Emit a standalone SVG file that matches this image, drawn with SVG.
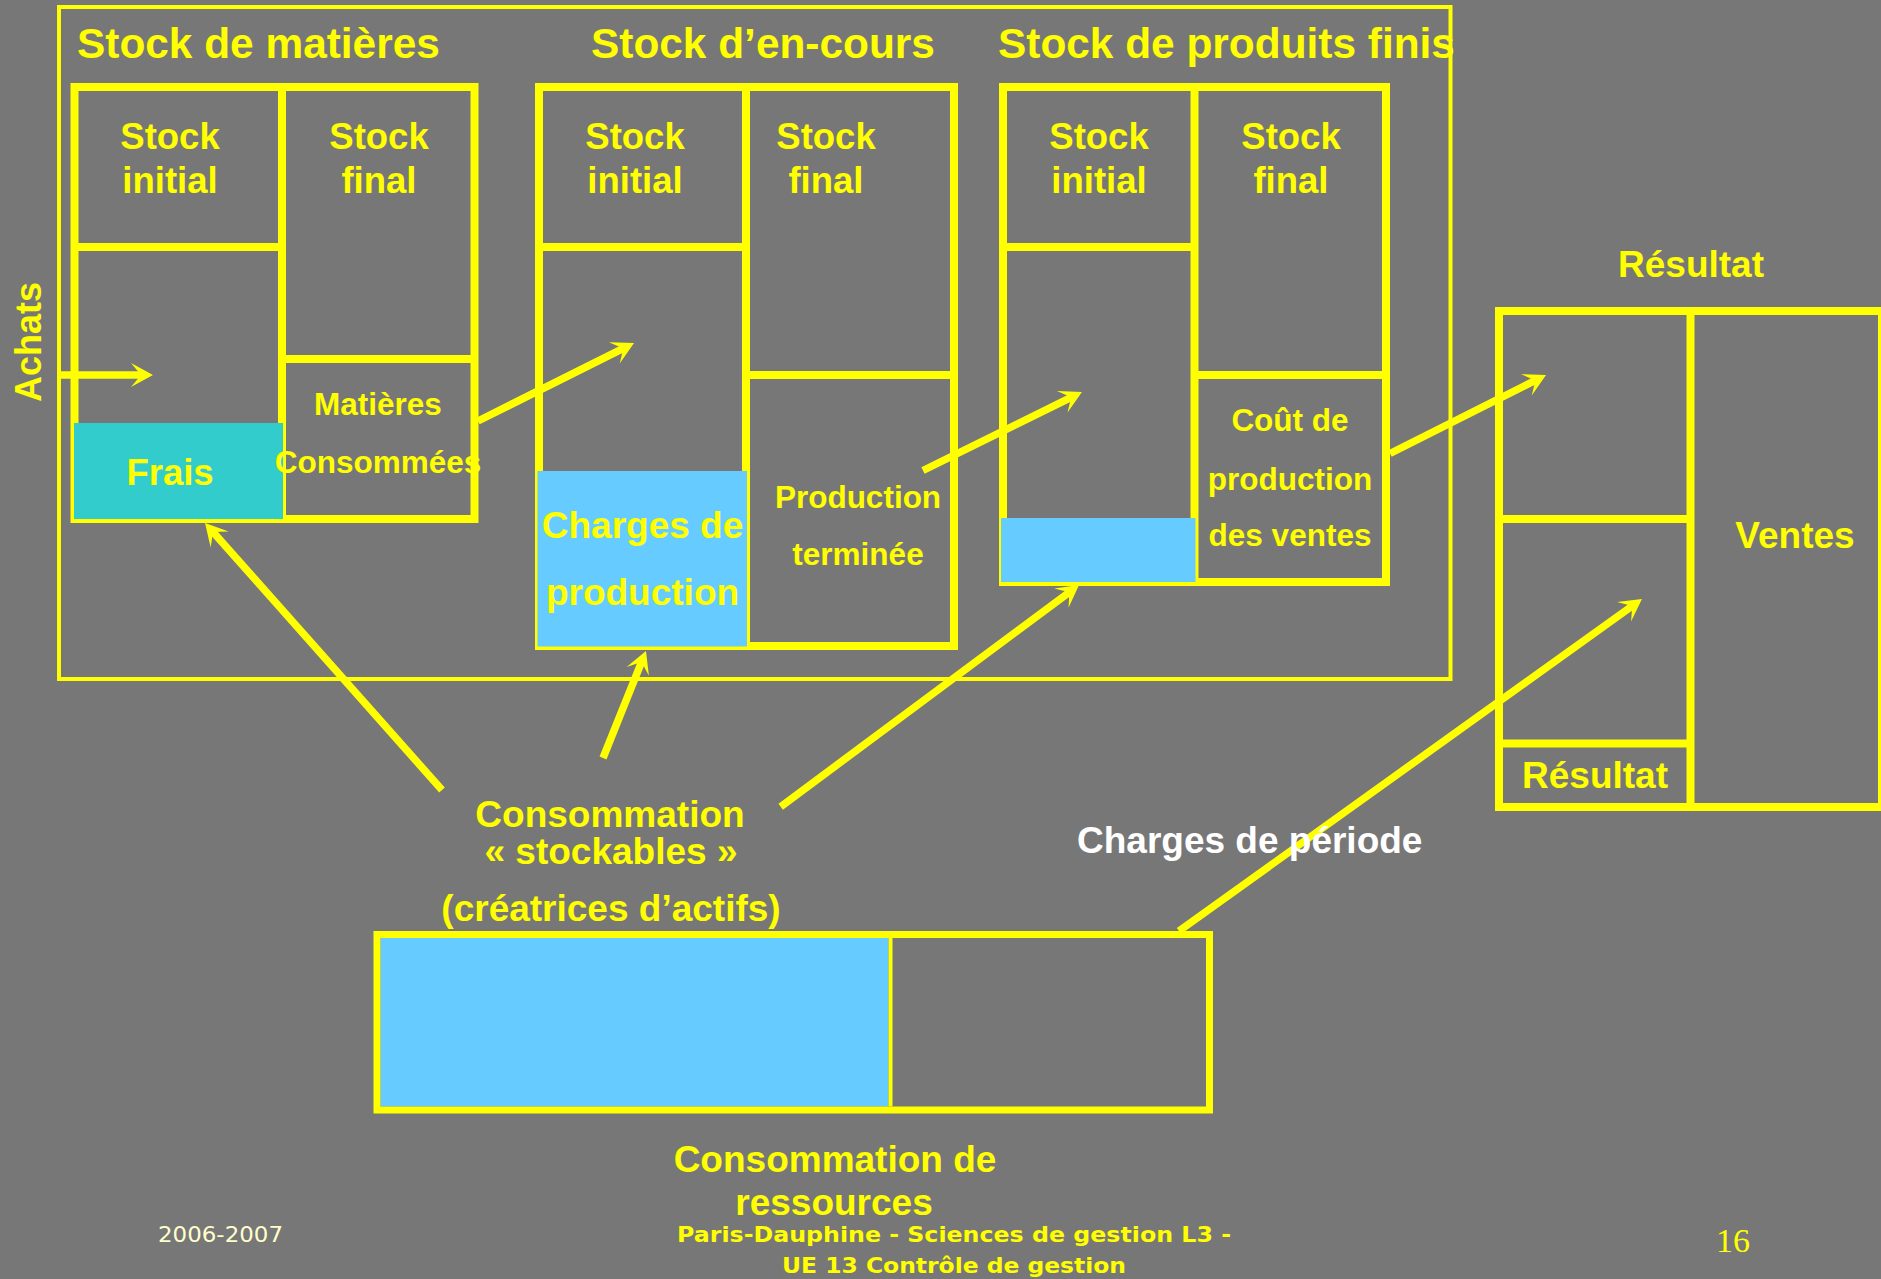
<svg xmlns="http://www.w3.org/2000/svg" width="1881" height="1279" viewBox="0 0 1881 1279">
<style>
.t{font-family:"Liberation Sans",Arial,sans-serif;font-weight:bold;fill:#FFFF00;}
.c{text-anchor:middle;}
.box{fill:none;stroke:#FFFF00;stroke-width:8;}
.ln{stroke:#FFFF00;stroke-width:8;}
.frame{fill:none;stroke:#FFFF00;stroke-width:4;}
.arr{fill:none;stroke:#FFFF00;stroke-width:7.5;marker-end:url(#ah);}
.s36{font-size:36.5px;}
.s31{font-size:31.5px;}
.s37{font-size:37px;}
.s42{font-size:42.4px;}
</style>
<defs>
<marker id="ah" markerUnits="userSpaceOnUse" markerWidth="24" markerHeight="26" refX="10" refY="0" orient="auto" style="overflow:visible">
<path d="M22,0 L0,-12 L10,0 L0,12 Z" fill="#FFFF00"/>
</marker>
</defs>
<rect width="1881" height="1279" fill="#777777"/>

<g id="frame-stocks">
<rect class="frame" x="59" y="7" width="1391.5" height="672"/>
<text class="t s42" x="77" y="58">Stock de matières</text>
<text class="t s42" x="591" y="58">Stock d’en-cours</text>
<text class="t s42" x="998" y="58">Stock de produits finis</text>
</g>

<g id="stock-matieres">
<rect class="box" x="74.5" y="87" width="400" height="432"/>
<line class="ln" x1="282" y1="87" x2="282" y2="519"/>
<line class="ln" x1="74.5" y1="247" x2="282" y2="247"/>
<line class="ln" x1="282" y1="359" x2="474.5" y2="359"/>
<rect x="74" y="423" width="209" height="96" fill="#33CCCC"/>
<text class="t s36 c" x="170" y="149">Stock</text>
<text class="t s36 c" x="170" y="193">initial</text>
<text class="t s36 c" x="379" y="149">Stock</text>
<text class="t s36 c" x="379" y="193">final</text>
<text class="t s36 c" x="170" y="485">Frais</text>
<text class="t s31 c" x="378" y="415">Matières</text>
<text class="t s31 c" x="378" y="473">Consommées</text>
</g>

<g id="stock-en-cours">
<rect class="box" x="539" y="87" width="415" height="559"/>
<line class="ln" x1="746" y1="87" x2="746" y2="646"/>
<line class="ln" x1="539" y1="247" x2="746" y2="247"/>
<line class="ln" x1="746" y1="375" x2="954" y2="375"/>
<rect x="537.5" y="471" width="209.5" height="175.5" fill="#66CCFF"/>
<text class="t s36 c" x="635" y="149">Stock</text>
<text class="t s36 c" x="635" y="193">initial</text>
<text class="t s36 c" x="826" y="149">Stock</text>
<text class="t s36 c" x="826" y="193">final</text>
<text class="t s37 c" x="642.5" y="538">Charges de</text>
<text class="t s37 c" x="642.5" y="605">production</text>
<text class="t s31 c" x="858" y="508">Production</text>
<text class="t s31 c" x="858" y="565">terminée</text>
</g>

<g id="stock-produits-finis">
<rect class="box" x="1003" y="87" width="383" height="495"/>
<line class="ln" x1="1194.5" y1="87" x2="1194.5" y2="582"/>
<line class="ln" x1="1003" y1="247" x2="1194.5" y2="247"/>
<line class="ln" x1="1194.5" y1="375" x2="1386" y2="375"/>
<rect x="1001" y="518" width="194.5" height="64" fill="#66CCFF"/>
<text class="t s36 c" x="1099" y="149">Stock</text>
<text class="t s36 c" x="1099" y="193">initial</text>
<text class="t s36 c" x="1291" y="149">Stock</text>
<text class="t s36 c" x="1291" y="193">final</text>
<text class="t s31 c" x="1290" y="431">Coût de</text>
<text class="t s31 c" x="1290" y="490">production</text>
<text class="t s31 c" x="1290" y="546">des ventes</text>
</g>

<g id="resultat">
<text class="t s37 c" x="1691" y="277">Résultat</text>
<rect class="box" x="1499" y="311" width="383" height="496"/>
<line class="ln" x1="1690.5" y1="311" x2="1690.5" y2="807"/>
<line class="ln" x1="1499" y1="519" x2="1690.5" y2="519"/>
<line class="ln" x1="1499" y1="743.5" x2="1690.5" y2="743.5"/>
<text class="t s37 c" x="1795" y="548">Ventes</text>
<text class="t s37 c" x="1595" y="788">Résultat</text>
</g>

<g id="achats">
<text class="t c" font-size="36" transform="translate(41,342) rotate(-90)" x="0" y="0">Achats</text>
</g>

<g id="consommation-stockables">
<text class="t s37 c" x="610" y="827">Consommation</text>
<text class="t s37 c" x="611" y="864">« stockables »</text>
<text class="t s37 c" x="611" y="921">(créatrices d’actifs)</text>
</g>

<g id="consommation-ressources">
<rect x="380.5" y="938" width="508" height="168.5" fill="#66CCFF"/>
<line x1="890.5" y1="938" x2="890.5" y2="1106.5" stroke="#FFFF00" stroke-width="4"/>
<rect x="377" y="934.5" width="832.5" height="175.5" fill="none" stroke="#FFFF00" stroke-width="7"/>
<text class="t s37 c" x="835" y="1172">Consommation de</text>
<text class="t s37 c" x="834" y="1215">ressources</text>
</g>

<g id="connectors">
<line class="arr" x1="57" y1="375" x2="141" y2="375"/>
<line class="arr" x1="478" y1="421" x2="623.3" y2="348.4"/>
<line class="arr" x1="923" y1="470.5" x2="1071.2" y2="397.3"/>
<line class="arr" x1="1390" y1="453.5" x2="1535.3" y2="380.4"/>
<line class="arr" x1="442" y1="790" x2="213" y2="532"/>
<line class="arr" x1="603" y1="758" x2="641.5" y2="662.1"/>
<line class="arr" x1="780.7" y1="806.7" x2="1069.4" y2="592.2"/>
<line class="arr" x1="1179" y1="931" x2="1632.2" y2="606"/>
</g>

<g id="charges-periode">
<text class="t s37" x="1077" y="853" style="fill:#FFFFFF">Charges de période</text>
</g>

<g id="footer">
<text x="158" y="1242" font-family="'DejaVu Sans',Verdana,sans-serif" font-size="22" fill="#FFFFCC" textLength="125" lengthAdjust="spacingAndGlyphs">2006-2007</text>
<text x="954" y="1242" text-anchor="middle" font-family="'DejaVu Sans',Verdana,sans-serif" font-weight="bold" font-size="22" fill="#FFFF00" textLength="554" lengthAdjust="spacingAndGlyphs">Paris-Dauphine - Sciences de gestion L3 -</text>
<text x="954" y="1273" text-anchor="middle" font-family="'DejaVu Sans',Verdana,sans-serif" font-weight="bold" font-size="22" fill="#FFFF00" textLength="344" lengthAdjust="spacingAndGlyphs">UE 13 Contrôle de gestion</text>
<text x="1733" y="1252" text-anchor="middle" font-family="'Liberation Serif','Times New Roman',serif" font-size="34" fill="#FFFF00">16</text>
</g>
</svg>
